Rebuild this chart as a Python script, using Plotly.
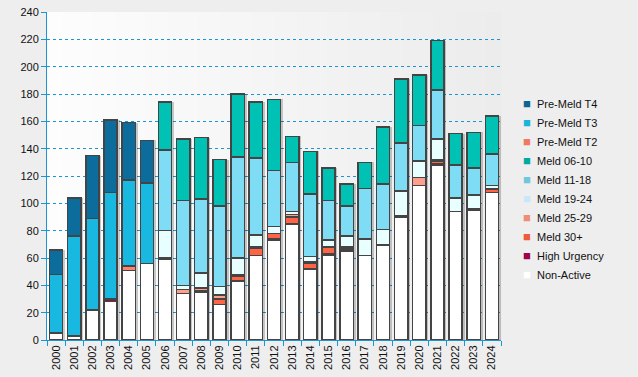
import plotly.graph_objects as go

years = [str(y) for y in range(2000, 2025)]

non_active   = [5, 3, 22, 28, 51, 56, 59, 34, 35, 26, 43, 62, 73, 85, 52, 62, 65, 62, 69, 90, 113, 128, 94, 95, 108]
high_urgency = [0, 0, 0, 2, 0, 0, 1, 0, 1, 0, 0, 0, 1, 0, 0, 1, 1, 0, 0, 1, 0, 1, 0, 1, 0]
meld_30      = [0, 0, 0, 0, 0, 0, 0, 0, 0, 4, 4, 5, 4, 5, 4, 5, 1, 0, 1, 0, 0, 2, 0, 0, 2]
meld_25_29   = [0, 0, 0, 0, 0, 0, 0, 3, 2, 3, 1, 1, 0, 2, 1, 0, 1, 0, 0, 0, 6, 1, 0, 0, 1]
meld_19_24   = [0, 0, 0, 0, 0, 0, 20, 3, 11, 6, 12, 9, 5, 2, 4, 5, 8, 12, 11, 18, 12, 15, 10, 10, 2]
meld_11_18   = [0, 0, 0, 0, 0, 0, 59, 62, 54, 59, 74, 56, 41, 36, 46, 29, 22, 37, 33, 35, 26, 36, 24, 20, 23]
meld_06_10   = [0, 0, 0, 0, 0, 0, 35, 45, 45, 34, 46, 41, 52, 19, 31, 24, 16, 19, 42, 47, 37, 36, 23, 26, 28]
pre_meld_t2  = [0, 0, 0, 0, 3, 0, 0, 0, 0, 0, 0, 0, 0, 0, 0, 0, 0, 0, 0, 0, 0, 0, 0, 0, 0]
pre_meld_t3  = [43, 73, 67, 78, 63, 59, 0, 0, 0, 0, 0, 0, 0, 0, 0, 0, 0, 0, 0, 0, 0, 0, 0, 0, 0]
pre_meld_t4  = [18, 28, 46, 53, 42, 31, 0, 0, 0, 0, 0, 0, 0, 0, 0, 0, 0, 0, 0, 0, 0, 0, 0, 0, 0]

# (name, values, bar colour, legend colour) bottom -> top
series = [
    ("Non-Active",   non_active,   "#ffffff", "#ffffff"),
    ("High Urgency", high_urgency, "#7c1c44", "#a0004c"),
    ("Meld 30+",     meld_30,      "#ff6446", "#f05a3c"),
    ("Meld 25-29",   meld_25_29,   "#ff9e8a", "#f08c78"),
    ("Meld 19-24",   meld_19_24,   "#e8ffff", "#c8e8f8"),
    ("Meld 11-18",   meld_11_18,   "#7edcf4", "#6ec8dc"),
    ("Meld 06-10",   meld_06_10,   "#00c2b4", "#00aaa0"),
    ("Pre-Meld T2",  pre_meld_t2,  "#ff8470", "#f07864"),
    ("Pre-Meld T3",  pre_meld_t3,  "#18b8e0", "#19b4dc"),
    ("Pre-Meld T4",  pre_meld_t4,  "#0c6c9c", "#0a6496"),
]

totals = [sum(s[1][i] for s in series) for i in range(len(years))]

BW = 0.73
fig = go.Figure()

# drop shadow behind each column
fig.add_trace(go.Bar(x=years, y=totals, width=BW, offset=-BW / 2 + 0.13,
                     marker=dict(color="rgba(0,0,0,0.2)", line=dict(width=0)),
                     xaxis="x", yaxis="y", showlegend=False, hoverinfo="skip"))

for name, vals, col, lcol in series:
    fig.add_trace(go.Bar(x=years, y=vals, name=name, width=BW,
                         marker=dict(color=col, line=dict(color="#444444", width=1.5)),
                         xaxis="x2", yaxis="y", showlegend=False))

# legend entries: coloured square glyph + label
for name, vals, col, lcol in reversed(series):
    label = (f'<span style="color:{lcol};font-size:13px">■</span>'
             f'&nbsp;&nbsp;{name}')
    fig.add_trace(go.Scatter(x=[None], y=[None], mode="markers", name=label,
                             marker=dict(symbol="square", size=1, color="rgba(0,0,0,0)",
                                         line=dict(width=0)),
                             xaxis="x2", yaxis="y", showlegend=True))

# gradient background for plot area
shapes = []
N = 60
for i in range(N):
    t = i / (N - 1)
    c = int(round(253 - t * (253 - 236)))
    shapes.append(dict(type="rect", xref="paper", yref="paper",
                       x0=i / N, x1=(i + 1) / N + 0.002, y0=0, y1=1,
                       fillcolor=f"rgb({c},{c},{c})", line=dict(width=0),
                       layer="below"))

axis_blue = "#1a96d4"
fig.update_layout(
    width=638, height=377,
    margin=dict(l=47, r=137, t=12, b=37, autoexpand=False),
    paper_bgcolor="#eeeeee",
    plot_bgcolor="rgba(0,0,0,0)",
    barmode="stack",
    bargap=0.27,
    font=dict(family="Liberation Sans, Arial, sans-serif", size=11, color="#111111"),
    shapes=shapes,
    showlegend=True,
    legend=dict(x=0.9604, xanchor="left", y=0.765, yanchor="top",
                traceorder="normal",
                bgcolor="rgba(0,0,0,0)", font=dict(size=11, color="#111111"),
                tracegroupgap=0, itemclick=False, itemdoubleclick=False),
    xaxis=dict(type="category", categoryorder="array", categoryarray=years,
               range=[-0.5, 24.5], tickangle=-90, showline=True, linecolor=axis_blue,
               linewidth=1, ticks="outside", tickson="boundaries", tickcolor=axis_blue,
               ticklen=5, showgrid=False, zeroline=False, fixedrange=True, automargin=False,
               tickfont=dict(size=11, color="#111111")),
    xaxis2=dict(type="category", categoryorder="array", categoryarray=years,
                range=[-0.5, 24.5], overlaying="x", visible=False, fixedrange=True,
                automargin=False),
    yaxis=dict(range=[0, 240], dtick=20, showline=True, linecolor=axis_blue, linewidth=1,
               ticks="outside", tickcolor=axis_blue, ticklen=5, automargin=False,
               showgrid=True, gridcolor=axis_blue, griddash="dot", gridwidth=1,
               zeroline=False, fixedrange=True, tickfont=dict(size=11, color="#111111")),
)

fig.write_html("out.html",
               config={"displayModeBar": False},
               post_script="document.body.style.margin='0';"
                           "document.body.style.background='#eeeeee';")
